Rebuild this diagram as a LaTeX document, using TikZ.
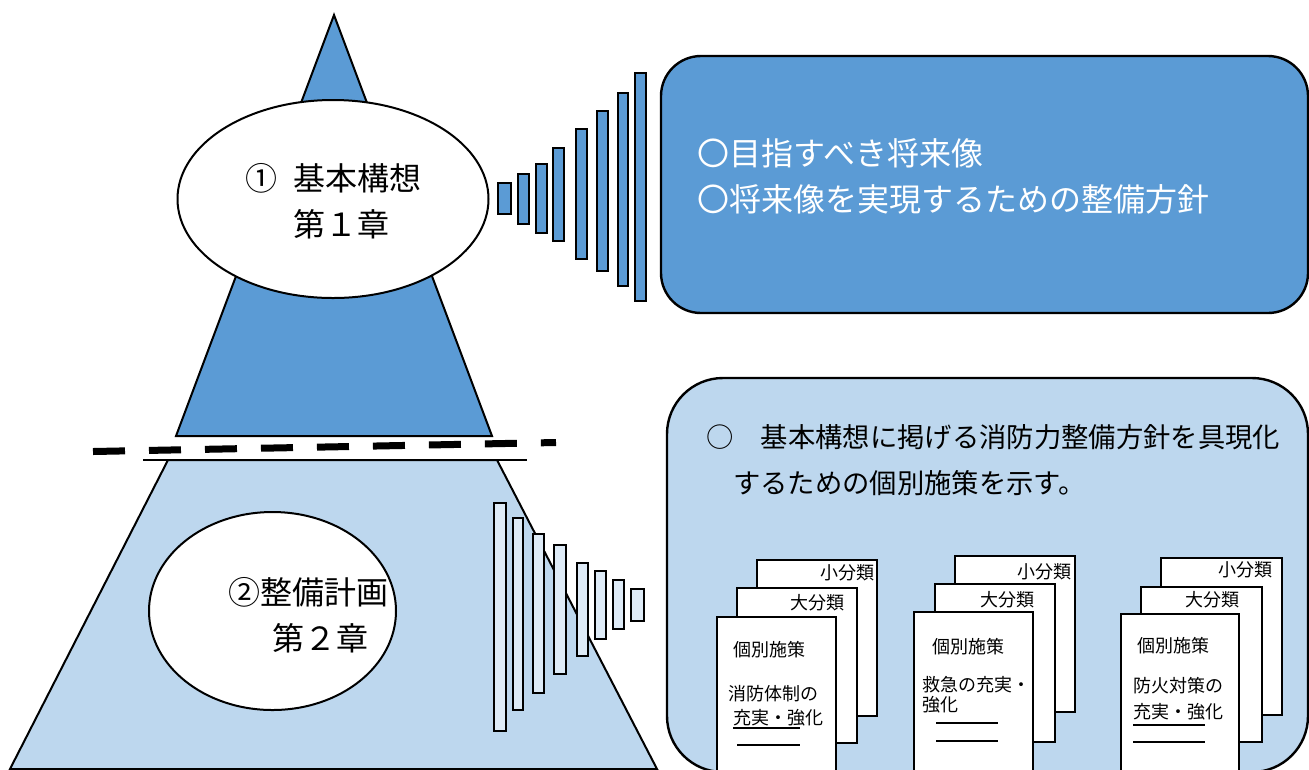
\documentclass[tikz,border=0pt]{standalone}
\usepackage{fontspec}
\setmainfont{Noto Sans CJK JP}
\usetikzlibrary{shapes.geometric}
\definecolor{dblue}{HTML}{5B9BD5}
\definecolor{lblue}{HTML}{BDD7EE}
\definecolor{pblue}{HTML}{DEEBF7}
\tikzset{
 outl/.style={draw=black, line width=1.5pt},
 ell/.style={ellipse, draw=black, line width=1.5pt, fill=white, inner sep=0pt},
 bartop/.style={draw=black, line width=2pt, fill=dblue},
 barbot/.style={draw=black, line width=2pt, fill=pblue},
 page/.style={draw=black, line width=1.6pt, fill=white},
 bigtxt/.style={font=\fontsize{24pt}{28pt}\selectfont, inner sep=0pt, anchor=west},
 midtxt/.style={font=\fontsize{20.5pt}{24pt}\selectfont, inner sep=0pt, anchor=west},
 smalltxt/.style={font=\fontsize{13.5pt}{16pt}\selectfont, inner sep=0pt},
 rbox/.style={draw=black, line width=1.8pt, inner sep=0pt},
}
\begin{document}
\begin{tikzpicture}[x=0.75pt,y=-0.75pt]
\useasboundingbox (0,0) rectangle (1309,769);
% ---------- upper part ----------
\draw[outl, fill=dblue] (334,15) -- (492,436) -- (176,436) -- cycle;
\node[ell, minimum width=233.25pt, minimum height=148.5pt] (e1) at (333,199) {};
\node[bigtxt, anchor=center] (t1n) at (261,178) {①};
\node[bigtxt] (t1a) at (293,178) {基本構想};
\node[bigtxt] (t1b) at (293,224) {第１章};
\foreach \xa/\ya/\xb/\yb in {498/183/511/214, 518/174/529/224, 536/164/547/233, 553/148/564/241, 576/129/587/259, 597/111/608/271, 618/93/628/286, 635/73/646/301}
  \draw[bartop] (\xa,\ya) rectangle (\xb,\yb);
\node[rbox, fill=dblue, rounded corners=30pt, minimum width=485.25pt, minimum height=192.75pt] (box1) at (984.5,184.5) {};
\node[bigtxt, text=white] (b1a) at (697,153) {〇目指すべき将来像};
\node[bigtxt, text=white] (b1b) at (697,199) {〇将来像を実現するための整備方針};
% ---------- divider ----------
\coordinate (dl) at (93,451.5);
\coordinate (dr) at (556,442.5);
\draw[line width=5.25pt, dash pattern=on 24pt off 18pt] (dl) -- (dr);
\coordinate (tl) at (143,460);
\coordinate (tr) at (527,460);
% ---------- lower part ----------
\draw[outl, fill=lblue] (168,460) -- (497,460) -- (657,769) -- (10,769) -- cycle;
\draw[line width=1pt] (tl) -- (tr);
\node[ell, minimum width=185.25pt, minimum height=148.5pt] (e2) at (272.5,611) {};
\node[bigtxt] (t2a) at (228,592) {②整備計画};
\node[bigtxt] (t2b) at (272,638) {第２章};
\foreach \xa/\ya/\xb/\yb in {494/503/506/731, 513/518/523/710, 533/534/544/693, 554/545/566/674, 577/563/588/656, 595/571/606/639, 613/580/624/629, 631/589/644/621}
  \draw[barbot] (\xa,\ya) rectangle (\xb,\yb);
\node[rbox, fill=lblue, rounded corners=42pt, minimum width=480.75pt, minimum height=295.5pt] (box2) at (987.5,575) {};
\node[midtxt] (b2a) at (706,437) {○　基本構想に掲げる消防力整備方針を具現化};
\node[midtxt] (b2b) at (733,483) {するための個別施策を示す。};
% ---------- stack 1 ----------
\draw[page] (757,560) rectangle (877,716);
\node[smalltxt, anchor=east] (s1c) at (875,573) {小分類};
\draw[page] (737,588) rectangle (857,743);
\node[smalltxt, anchor=east] (s1b) at (845,603) {大分類};
\draw[page] (717,617) rectangle (836,790);
\node[smalltxt, anchor=west] (s1a) at (733,650) {個別施策};
\node[smalltxt, anchor=west] (s1d) at (728,694) {消防体制の};
\node[smalltxt, anchor=west] (s1e) at (733,718) {充実・強化};
\draw[line width=0.8pt] (733,728) -- (800,728);
\draw[line width=0.8pt] (737,745) -- (800,745);
% ---------- stack 2 ----------
\draw[page] (955,556) rectangle (1075,712);
\node[smalltxt, anchor=east] (s2c) at (1072,572) {小分類};
\draw[page] (935,584) rectangle (1055,742);
\node[smalltxt, anchor=east] (s2b) at (1035,600) {大分類};
\draw[page] (914,612) rectangle (1033,790);
\node[smalltxt, anchor=west] (s2a) at (932,647) {個別施策};
\node[smalltxt, anchor=west] (s2d) at (922,685) {救急の充実・};
\node[smalltxt, anchor=west] (s2e) at (922,705) {強化};
\draw[line width=0.8pt] (936,723) -- (998,723);
\draw[line width=0.8pt] (936,741) -- (998,741);
% ---------- stack 3 ----------
\draw[page] (1161,558) rectangle (1282,715);
\node[smalltxt, anchor=east] (s3c) at (1273,570) {小分類};
\draw[page] (1141,587) rectangle (1262,742);
\node[smalltxt, anchor=east] (s3b) at (1240,600) {大分類};
\draw[page] (1121,614) rectangle (1239,790);
\node[smalltxt, anchor=west] (s3a) at (1137,646) {個別施策};
\node[smalltxt, anchor=west] (s3d) at (1133,686) {防火対策の};
\node[smalltxt, anchor=west] (s3e) at (1133,712) {充実・強化};
\draw[line width=0.8pt] (1133,725) -- (1205,725);
\draw[line width=0.8pt] (1133,742) -- (1205,742);
\end{tikzpicture}
\end{document}
